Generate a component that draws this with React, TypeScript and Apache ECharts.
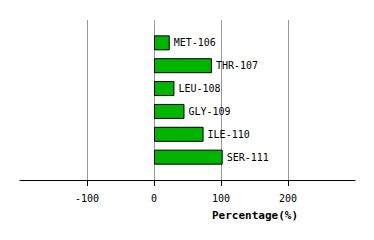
import React, { useEffect, useRef } from "react";
import * as echarts from "echarts";

const categories = ["MET-106", "THR-107", "LEU-108", "GLY-109", "ILE-110", "SER-111"];
const values = [23.5, 86.5, 30.5, 45.5, 74, 102.5];
const xRange = [-200, 300];
const tickRange = [-100, 200];

export default function App() {
  const ref = useRef<HTMLDivElement>(null);
  useEffect(() => {
    if (!ref.current) return;
    const chart = echarts.init(ref.current, null, { renderer: "svg" });
    const padded = ["", ...categories, ""];
    const data = [null, ...values.map((v, i) => ({ value: v, name: categories[i] })), null];
    const W = 374;
    const left = 20;
    const right = 19;
    const plotW = W - left - right;
    const unit = plotW / (xRange[1] - xRange[0]);
    const tickLeft = left + (tickRange[0] - xRange[0]) * unit;
    const tickRight = right + (xRange[1] - tickRange[1]) * unit;
    chart.setOption({
      animation: false,
      grid: [
        { left, right, top: 20, bottom: 60, containLabel: false },
        { left: tickLeft, right: tickRight, top: 20, bottom: 60, containLabel: false },
      ],
      xAxis: [
        {
          type: "value",
          gridIndex: 0,
          min: xRange[0],
          max: xRange[1],
          interval: 100,
          axisLine: { show: true, onZero: false, lineStyle: { color: "#000", width: 1 } },
          axisTick: { show: false },
          axisLabel: { show: false },
          splitLine: { show: false },
        },
        {
          type: "value",
          gridIndex: 1,
          min: tickRange[0],
          max: tickRange[1],
          interval: 100,
          axisLine: { show: false, onZero: false },
          axisTick: { show: true, length: 6, lineStyle: { color: "#000" } },
          axisLabel: {
            color: "#000",
            fontFamily: "DejaVu Sans Mono",
            fontSize: 10,
            margin: 13,
          },
          splitLine: { show: true, lineStyle: { color: "#999", width: 1 } },
          name: "Percentage(%)",
          nameLocation: "middle",
          nameGap: 30,
          nameTextStyle: {
            color: "#000",
            fontFamily: "DejaVu Sans Mono",
            fontWeight: "bold",
            fontSize: 11,
            padding: [0, 0, 0, 135],
          },
        },
      ],
      yAxis: [
        {
          type: "category",
          gridIndex: 0,
          data: padded,
          inverse: true,
          boundaryGap: false,
          axisLine: { show: false },
          axisTick: { show: false },
          axisLabel: { show: false },
          splitLine: { show: false },
        },
        {
          type: "value",
          gridIndex: 1,
          show: false,
        },
      ],
      series: [
        {
          type: "bar",
          xAxisIndex: 0,
          yAxisIndex: 0,
          data,
          barWidth: 15,
          z: 3,
          itemStyle: { color: "#00b400", borderColor: "#000", borderWidth: 1 },
          label: {
            show: true,
            position: "right",
            distance: 4,
            formatter: (p: any) => p.name,
            color: "#000",
            fontFamily: "DejaVu Sans Mono",
            fontSize: 10,
          },
        },
      ],
    });
    return () => chart.dispose();
  }, []);
  return (
    <div
      ref={ref}
      style={{ position: "fixed", left: 0, top: 0, width: 374, height: 240, background: "#fff" }}
    />
  );
}
